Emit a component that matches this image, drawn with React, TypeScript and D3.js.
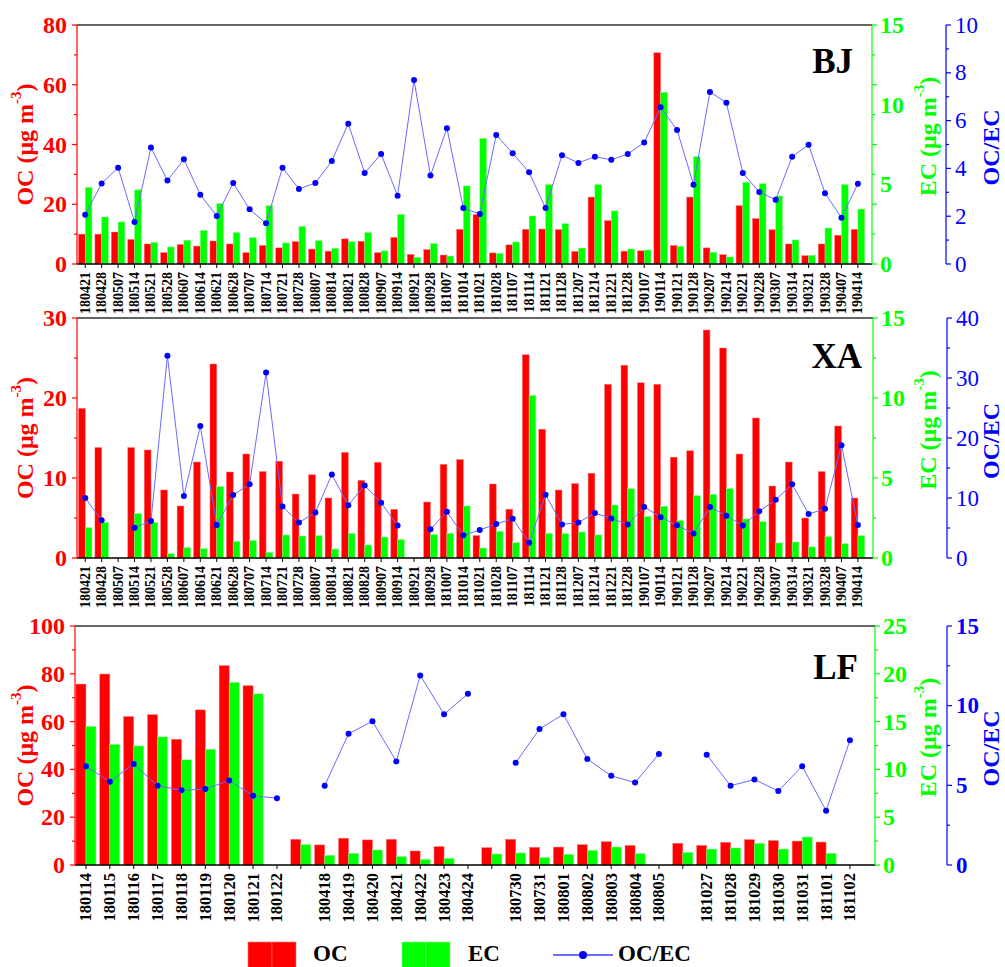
import React from 'react';
import * as d3 from 'd3';

// ---------- DATA ----------
const weeklyDates = ['180421','180428','180507','180514','180521','180528','180607','180614','180621','180628','180707','180714','180721','180728','180807','180814','180821','180828','180907','180914','180921','180928','181007','181014','181021','181028','181107','181114','181121','181128','181207','181214','181221','181228','190107','190114','190121','190128','190207','190214','190221','190228','190307','190314','190321','190328','190407','190414'];

const bjOC = [10, 10, 10.7, 8.2, 6.7, 3.8, 6.5, 6.0, 7.7, 6.7, 3.8, 6.2, 5.4, 7.5, 5.0, 4.3, 8.4, 7.6, 3.8, 8.9, 3.2, 4.8, 3.0, 11.6, 16.5, 3.7, 6.4, 11.6, 11.7, 11.5, 4.2, 22.4, 14.5, 4.3, 4.4, 70.7, 6.2, 22.4, 5.4, 3.1, 19.5, 15.2, 11.5, 6.7, 2.8, 6.7, 9.6, 11.6];
const bjEC = [4.81, 2.95, 2.64, 4.65, 1.36, 1.07, 1.49, 2.11, 3.79, 1.97, 1.65, 3.66, 1.32, 2.36, 1.46, 0.98, 1.40, 1.97, 0.82, 3.12, 0.42, 1.28, 0.50, 4.90, 7.89, 0.67, 1.38, 3.01, 4.98, 2.53, 1.00, 4.98, 3.33, 0.94, 0.88, 10.78, 1.11, 6.74, 0.73, 0.44, 5.13, 5.04, 4.27, 1.51, 0.54, 2.26, 4.98, 3.45];
const bjRatio = [2.06, 3.37, 4.03, 1.76, 4.87, 3.49, 4.38, 2.90, 2.01, 3.39, 2.29, 1.70, 4.03, 3.14, 3.39, 4.31, 5.87, 3.81, 4.60, 2.86, 7.70, 3.70, 5.68, 2.34, 2.09, 5.40, 4.63, 3.84, 2.34, 4.55, 4.23, 4.49, 4.36, 4.60, 5.08, 6.56, 5.61, 3.32, 7.20, 6.75, 3.81, 3.01, 2.69, 4.49, 4.99, 2.96, 1.94, 3.36];

const xaOC = [18.7, 13.8, null, 13.8, 13.5, 8.5, 6.5, 12.0, 24.25, 10.75, 13.0, 10.8, 12.1, 8.0, 10.4, 7.5, 13.2, 9.7, 11.96, 6.08, null, 7.0, 11.7, 12.3, 2.8, 9.25, 6.1, 25.4, 16.1, 8.5, 9.3, 10.6, 21.7, 24.1, 21.9, 21.7, 12.6, 13.4, 28.5, 26.25, 13.0, 17.5, 9.0, 12.0, 5.0, 10.8, 16.5, 7.5];
const xaEC = [1.90, 2.23, null, 2.77, 2.23, 0.27, 0.65, 0.58, 4.46, 1.04, 1.10, 0.35, 1.44, 1.375, 1.40, 0.56, 1.54, 0.81, 1.31, 1.15, null, 1.46, 1.54, 3.25, 0.625, 1.67, 0.96, 10.17, 1.54, 1.52, 1.625, 1.44, 3.31, 4.33, 2.6, 3.23, 2.33, 3.9, 3.96, 4.33, 2.44, 2.27, 0.94, 1.0, 0.69, 1.33, 0.9, 1.40];
const xaRatio = [10.0, 6.28, null, 5.06, 6.17, 33.7, 10.33, 22.0, 5.5, 10.5, 12.3, 30.9, 8.6, 5.9, 7.6, 13.9, 8.8, 12.1, 9.2, 5.4, null, 4.8, 7.7, 3.8, 4.67, 5.67, 6.56, 2.56, 10.56, 5.6, 5.9, 7.5, 6.6, 5.6, 8.5, 6.8, 5.44, 4.1, 8.5, 7.06, 5.4, 7.8, 9.7, 12.3, 7.33, 8.2, 18.8, 5.5];

const lfDates = ['180114','180115','180116','180117','180118','180119','180120','180121','180122','','180418','180419','180420','180421','180422','180423','180424','','180730','180731','180801','180802','180803','180804','180805','','181027','181028','181029','181030','181031','181101','181102'];
const lfOC = [75.7, 79.9, 62.1, 62.9, 52.6, 64.9, 83.4, 75.0, null, 10.75, 8.4, 11.2, 10.5, 10.75, 5.86, 7.67, null, 7.25, 10.75, 7.4, 7.5, 8.5, 9.75, 8.2, null, 9.1, 8.2, 9.5, 10.6, 10.2, 10.0, 9.6, null];
const lfEC = [14.5, 12.6, 12.45, 13.4, 11.0, 12.1, 19.1, 17.9, null, 2.13, 1.01, 1.22, 1.57, 0.87, 0.59, 0.70, null, 1.15, 1.26, 0.77, 1.11, 1.53, 1.88, 1.19, null, 1.32, 1.67, 1.78, 2.27, 1.67, 2.93, 1.22, null];
const lfRatio = [6.2, 5.23, 6.34, 4.98, 4.69, 4.77, 5.3, 4.35, 4.19, null, 4.98, 8.24, 9.02, 6.5, 11.9, 9.46, 10.75, null, 6.42, 8.54, 9.46, 6.65, 5.6, 5.17, 6.97, null, 6.92, 4.98, 5.36, 4.65, 6.2, 3.41, 7.83];

const legendItems = ['OC', 'EC', 'OC/EC'];

// ---------- STYLE ----------
const FONT = '"Liberation Serif", "Times New Roman", Times, serif';
const RED = '#ff0000';
const GREEN = '#00ff00';
const BLUE = '#0000ff';
const LINEBLUE = '#6b6bff';

type PanelProps = {
  name: string;
  dates: string[];
  oc: (number | null)[];
  ec: (number | null)[];
  ratio: (number | null)[];
  top: number;
  bottom: number;
  left: number;
  right: number;
  bandStart: number;
  step: number;
  blueX: number;
  ocMax: number;
  ocStep: number;
  ecMax: number;
  ecStep: number;
  rMax: number;
  rStep: number;
  blueBold: boolean;
  labelX: number;
  labelY: number;
  barFrac: number;
  dotR: number;
  xFont: number;
  xGap: number;
};

function Panel(p: PanelProps) {
  const n = p.dates.length;
  const idx = d3.range(n).map(String);
  const x = d3.scaleBand().domain(idx).range([p.bandStart, p.bandStart + n * p.step]).padding(0);
  const yOC = d3.scaleLinear().domain([0, p.ocMax]).range([p.bottom, p.top]);
  const yEC = d3.scaleLinear().domain([0, p.ecMax]).range([p.bottom, p.top]);
  const yR = d3.scaleLinear().domain([0, p.rMax]).range([p.bottom, p.top]);
  const bw = x.bandwidth() * p.barFrac;
  const cx = (i: number) => (x(String(i)) as number) + x.bandwidth() / 2;

  const ocMajor = d3.range(0, p.ocMax + 1e-9, p.ocStep);
  const ocMinor = d3.range(p.ocStep / 2, p.ocMax, p.ocStep);
  const ecMajor = d3.range(0, p.ecMax + 1e-9, p.ecStep);
  const rMajor = d3.range(0, p.rMax + 1e-9, p.rStep);
  const rMinor = d3.range(p.rStep / 2, p.rMax, p.rStep);

  const line = d3
    .line<number | null>()
    .defined((d) => d != null)
    .x((_d, i) => cx(i))
    .y((d) => yR(d as number));

  const midY = (p.top + p.bottom) / 2;

  return (
    <g>
      {/* bars */}
      {p.oc.map((v, i) =>
        v == null ? null : (
          <rect key={'oc' + i} x={cx(i) - bw} y={yOC(v)} width={bw} height={p.bottom - yOC(v)} fill={RED} stroke="#ff7070" strokeWidth={0.5} />
        )
      )}
      {p.ec.map((v, i) =>
        v == null ? null : (
          <rect key={'ec' + i} x={cx(i)} y={yEC(v)} width={bw} height={p.bottom - yEC(v)} fill={GREEN} stroke="#80ff80" strokeWidth={0.5} />
        )
      )}
      {/* ratio line */}
      <path d={line(p.ratio) || ''} fill="none" stroke={LINEBLUE} strokeWidth={1} />
      {p.ratio.map((v, i) => (v == null ? null : <circle key={'r' + i} cx={cx(i)} cy={yR(v)} r={p.dotR} fill={BLUE} />))}

      {/* frame top */}
      <line x1={p.left} x2={p.right} y1={p.top} y2={p.top} stroke="#333" strokeWidth={1.5} />
      {/* bottom axis */}
      <line x1={p.left} x2={p.right} y1={p.bottom} y2={p.bottom} stroke="#000" strokeWidth={1.5} />
      {p.dates.map((d, i) => (
        <g key={'xt' + i}>
          <line x1={cx(i)} x2={cx(i)} y1={p.bottom} y2={p.bottom + 4} stroke="#000" strokeWidth={1} />
          {d ? (
            <text
              transform={`translate(${cx(i)},${p.bottom + p.xGap}) rotate(-90)`}
              textAnchor="end"
              dominantBaseline="central"
              fontFamily={FONT}
              fontWeight="bold"
              fontSize={p.xFont}
              fill="#000"
            >
              {d}
            </text>
          ) : null}
        </g>
      ))}

      {/* left OC axis */}
      <line x1={p.left} x2={p.left} y1={p.top} y2={p.bottom} stroke={RED} strokeWidth={1.2} />
      {ocMajor.map((t) => (
        <g key={'ocl' + t}>
          <line x1={p.left - 5} x2={p.left} y1={yOC(t)} y2={yOC(t)} stroke={RED} strokeWidth={1.2} />
          <text x={p.left - 10} y={yOC(t)} textAnchor="end" dominantBaseline="central" fontFamily={FONT} fontWeight="bold" fontSize={24} fill={RED}>
            {t}
          </text>
        </g>
      ))}
      {ocMinor.map((t) => (
        <line key={'ocm' + t} x1={p.left - 3} x2={p.left} y1={yOC(t)} y2={yOC(t)} stroke={RED} strokeWidth={1.2} />
      ))}
      <text
        transform={`translate(25,${midY}) rotate(-90)`}
        textAnchor="middle"
        dominantBaseline="central"
        fontFamily={FONT}
        fontWeight="bold"
        fontSize={24}
        fill={RED}
      >
        OC (μg m<tspan dy={-9} fontSize={15}>-3</tspan>
        <tspan dy={9}>)</tspan>
      </text>

      {/* right EC axis */}
      <line x1={p.right} x2={p.right} y1={p.top} y2={p.bottom} stroke={GREEN} strokeWidth={1.2} />
      {ocMajor.map((t) => (
        <line key={'ecM' + t} x1={p.right} x2={p.right + 5} y1={yOC(t)} y2={yOC(t)} stroke={GREEN} strokeWidth={1.2} />
      ))}
      {ocMinor.map((t) => (
        <line key={'ecm' + t} x1={p.right} x2={p.right + 3} y1={yOC(t)} y2={yOC(t)} stroke={GREEN} strokeWidth={1.2} />
      ))}
      {ecMajor.map((t) => (
        <text key={'ecl' + t} x={p.right + 8} y={yEC(t)} textAnchor="start" dominantBaseline="central" fontFamily={FONT} fontWeight="bold" fontSize={24} fill={GREEN}>
          {t}
        </text>
      ))}
      <text
        transform={`translate(928,${midY - 8}) rotate(-90)`}
        textAnchor="middle"
        dominantBaseline="central"
        fontFamily={FONT}
        fontWeight="bold"
        fontSize={24}
        fill={GREEN}
      >
        EC (μg m<tspan dy={-9} fontSize={15}>-3</tspan>
        <tspan dy={9}>)</tspan>
      </text>

      {/* OC/EC axis */}
      <line x1={p.blueX} x2={p.blueX} y1={p.top} y2={p.bottom} stroke={BLUE} strokeWidth={1.2} />
      {rMajor.map((t) => (
        <g key={'rl' + t}>
          <line x1={p.blueX} x2={p.blueX + 5} y1={yR(t)} y2={yR(t)} stroke={BLUE} strokeWidth={1.2} />
          <text x={p.blueX + 9} y={yR(t)} textAnchor="start" dominantBaseline="central" fontFamily={FONT} fontWeight={p.blueBold ? 'bold' : 'normal'} fontSize={23} fill={BLUE}>
            {t}
          </text>
        </g>
      ))}
      {rMinor.map((t) => (
        <line key={'rm' + t} x1={p.blueX} x2={p.blueX + 3} y1={yR(t)} y2={yR(t)} stroke={BLUE} strokeWidth={1.2} />
      ))}
      <text
        transform={`translate(991,${midY + 3}) rotate(-90)`}
        textAnchor="middle"
        dominantBaseline="central"
        fontFamily={FONT}
        fontWeight="bold"
        fontSize={24}
        fill={BLUE}
      >
        OC/EC
      </text>

      {/* panel name */}
      <text x={p.labelX} y={p.labelY} textAnchor="end" fontFamily={FONT} fontWeight="bold" fontSize={35} fill="#000">
        {p.name}
      </text>
    </g>
  );
}

export default function App() {
  return (
    <svg width={1005} height={967} style={{ position: 'absolute', left: 0, top: 0, background: '#fff' }}>
      <rect x={0} y={0} width={1005} height={967} fill="#fff" />
      <Panel
        name="BJ"
        dates={weeklyDates}
        oc={bjOC}
        ec={bjEC}
        ratio={bjRatio}
        top={25}
        bottom={264}
        left={77}
        right={872}
        bandStart={77}
        step={16.44}
        blueX={946}
        ocMax={80}
        ocStep={20}
        ecMax={15}
        ecStep={5}
        rMax={10}
        rStep={2}
        blueBold={false}
        labelX={853}
        labelY={73}
        barFrac={0.41}
        dotR={3}
        xFont={14}
        xGap={8}
      />
      <Panel
        name="XA"
        dates={weeklyDates}
        oc={xaOC}
        ec={xaEC}
        ratio={xaRatio}
        top={318}
        bottom={558}
        left={77}
        right={873}
        bandStart={77}
        step={16.44}
        blueX={947}
        ocMax={30}
        ocStep={10}
        ecMax={15}
        ecStep={5}
        rMax={40}
        rStep={10}
        blueBold={false}
        labelX={862}
        labelY={368}
        barFrac={0.41}
        dotR={3}
        xFont={14}
        xGap={8}
      />
      <Panel
        name="LF"
        dates={lfDates}
        oc={lfOC}
        ec={lfEC}
        ratio={lfRatio}
        top={626}
        bottom={865}
        left={75}
        right={875}
        bandStart={74}
        step={23.875}
        blueX={947}
        ocMax={100}
        ocStep={20}
        ecMax={25}
        ecStep={5}
        rMax={15}
        rStep={5}
        blueBold={true}
        labelX={858}
        labelY={679}
        barFrac={0.42}
        dotR={3}
        xFont={16.5}
        xGap={8}
      />

      {/* legend */}
      <g>
        <rect x={248} y={942} width={24} height={28} fill={RED} stroke="#ff7070" strokeWidth={0.6} />
        <rect x={272} y={942} width={24} height={28} fill={RED} stroke="#ff7070" strokeWidth={0.6} />
        <text x={313} y={961} fontFamily={FONT} fontWeight="bold" fontSize={23} fill="#000">{legendItems[0]}</text>
        <rect x={402} y={942} width={24} height={28} fill={GREEN} stroke="#80ff80" strokeWidth={0.6} />
        <rect x={426} y={942} width={24} height={28} fill={GREEN} stroke="#80ff80" strokeWidth={0.6} />
        <text x={468} y={961} fontFamily={FONT} fontWeight="bold" fontSize={23} fill="#000">{legendItems[1]}</text>
        <line x1={553} x2={613} y1={955} y2={955} stroke="#3b3bff" strokeWidth={1.5} />
        <circle cx={583} cy={955} r={4} fill={BLUE} />
        <text x={618} y={961} fontFamily={FONT} fontWeight="bold" fontSize={23} fill="#000">{legendItems[2]}</text>
      </g>
    </svg>
  );
}
